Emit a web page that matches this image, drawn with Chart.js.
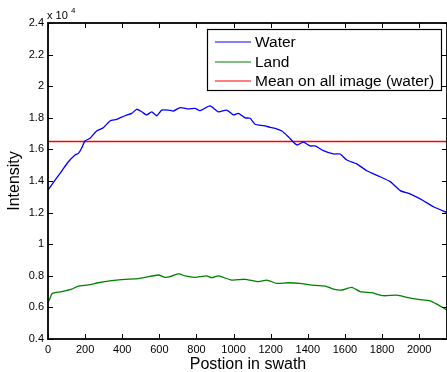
<!DOCTYPE html>
<html>
<head>
<meta charset="utf-8">
<script src="https://cdn.jsdelivr.net/npm/chart.js@4.4.1/dist/chart.umd.min.js"></script>
<style>
  html, body { margin: 0; padding: 0; background: #fff; }
  #wrap { width: 447px; height: 372px; }
</style>
</head>
<body>
<div id="wrap"><canvas id="cSwath" width="447" height="372"></canvas></div>
<script>
/* ── Data (intensity values, raw) ── */
const waterPos = [0, 38, 74, 110, 146, 164, 181, 199, 226, 262, 298, 334, 370, 415, 451, 478, 505, 532, 559, 586, 613, 649, 676, 712, 757, 792, 819, 873, 918, 963, 999, 1026, 1062, 1089, 1116, 1161, 1197, 1224, 1260, 1295, 1341, 1376, 1412, 1439, 1484, 1538, 1574, 1610, 1664, 1718, 1790, 1844, 1898, 1951, 2023, 2077, 2149];
const waterVal = [13430, 14060, 14630, 15220, 15650, 15750, 16070, 16530, 16700, 17160, 17370, 17800, 17900, 18130, 18280, 18540, 18380, 18180, 18380, 18130, 18490, 18490, 18430, 18640, 18560, 18600, 18450, 18750, 18380, 18490, 18180, 18280, 18000, 17970, 17590, 17500, 17400, 17330, 17160, 16800, 16280, 16460, 16220, 16220, 15920, 15710, 15710, 15330, 15080, 14650, 14270, 13960, 13390, 13180, 12750, 12370, 12000];

const landPos = [0, 11, 23, 74, 128, 164, 217, 271, 343, 415, 469, 523, 595, 631, 658, 694, 712, 739, 792, 855, 882, 918, 990, 1062, 1134, 1179, 1233, 1295, 1358, 1412, 1493, 1538, 1583, 1637, 1682, 1745, 1808, 1880, 1934, 1996, 2059, 2095, 2149];
const landVal = [6300, 6580, 6890, 7000, 7160, 7350, 7420, 7560, 7690, 7780, 7800, 7900, 8050, 7900, 7940, 8110, 8110, 7990, 7900, 7990, 7880, 7990, 7730, 7780, 7630, 7730, 7520, 7560, 7520, 7420, 7350, 7160, 7100, 7270, 7000, 6930, 6740, 6780, 6640, 6510, 6420, 6210, 5840];

const meanWater = 16500;
const meanPos   = [0, 2150];

const xMin = 0, xMax = 2150, xStep = 200;
const yMin = 4000, yMax = 24000, yStep = 2000;

const FONT = '"Liberation Sans", Arial, Helvetica, sans-serif';

const pts = (xs, ys) => xs.map((x, i) => ({ x: x, y: ys[i] }));

/* ── MATLAB-like frame, inward ticks, labels and legend ── */
const matlabFrame = {
  id: 'matlabFrame',
  afterDatasetsDraw(chart) {
    const { ctx, chartArea: a, scales } = chart;
    const sx = scales.x, sy = scales.y;
    ctx.save();

    // inward ticks
    ctx.strokeStyle = '#000';
    ctx.lineWidth = 1;
    const tl = 5;
    for (let v = xMin; v <= xMax; v += xStep) {
      const px = Math.round(sx.getPixelForValue(v)) + 0.5;
      ctx.beginPath();
      ctx.moveTo(px, a.bottom); ctx.lineTo(px, a.bottom - tl);
      ctx.moveTo(px, a.top);    ctx.lineTo(px, a.top + tl);
      ctx.stroke();
    }
    for (let v = yMin; v <= yMax; v += yStep) {
      const py = Math.round(sy.getPixelForValue(v)) + 0.5;
      ctx.beginPath();
      ctx.moveTo(a.left, py);  ctx.lineTo(a.left + tl, py);
      ctx.moveTo(a.right, py); ctx.lineTo(a.right - tl, py);
      ctx.stroke();
    }

    // box
    ctx.lineWidth = 1.8;
    ctx.strokeRect(a.left, a.top, a.right - a.left, a.bottom - a.top);

    // legend
    const lx = 207.5, ly = 29.5, lw = 234, lh = 61;
    ctx.fillStyle = '#fff';
    ctx.fillRect(lx, ly, lw, lh);
    ctx.lineWidth = 1.2;
    ctx.strokeStyle = '#000';
    ctx.strokeRect(lx, ly, lw, lh);
    ctx.font = '15.5px ' + FONT;
    ctx.textBaseline = 'middle';
    ctx.textAlign = 'left';
    const rows = [42, 62, 81];
    chart.data.datasets.forEach((ds, i) => {
      ctx.strokeStyle = ds.borderColor;
      ctx.lineWidth = 1.2;
      ctx.beginPath();
      ctx.moveTo(215, rows[i]); ctx.lineTo(251, rows[i]);
      ctx.stroke();
      ctx.fillStyle = '#000';
      ctx.fillText(ds.label, 255, rows[i] + 1);
    });

    // exponent label
    ctx.fillStyle = '#000';
    ctx.font = '11px ' + FONT;
    ctx.textBaseline = 'alphabetic';
    ctx.fillText('x 10', 47, 19);
    ctx.font = '8px ' + FONT;
    ctx.fillText('4', 71, 13);

    // axis titles
    ctx.font = '16px ' + FONT;
    ctx.textAlign = 'center';
    ctx.fillText('Postion in swath', 248, 369);
    ctx.translate(19, 181);
    ctx.rotate(-Math.PI / 2);
    ctx.fillText('Intensity', 0, 0);

    ctx.restore();
  }
};

new Chart(document.getElementById('cSwath'), {
  type: 'line',
  data: {
    datasets: [
      {
        label: 'Water',
        data: pts(waterPos, waterVal),
        borderColor: '#0000ff',
        borderWidth: 1.3,
        pointRadius: 0,
        tension: 0.2
      },
      {
        label: 'Land',
        data: pts(landPos, landVal),
        borderColor: '#008000',
        borderWidth: 1.3,
        pointRadius: 0,
        tension: 0.2
      },
      {
        label: 'Mean on all image (water)',
        data: pts(meanPos, meanPos.map(() => meanWater)),
        borderColor: '#ff0000',
        borderWidth: 1.5,
        pointRadius: 0,
        tension: 0
      }
    ]
  },
  options: {
    responsive: false,
    animation: false,
    layout: { padding: { top: 23, right: 0, left: 0, bottom: 0 } },
    plugins: { legend: { display: false }, tooltip: { enabled: false } },
    scales: {
      x: {
        type: 'linear',
        min: xMin,
        max: xMax,
        grid: { display: false, drawTicks: false },
        border: { display: false },
        afterBuildTicks: s => {
          const t = [];
          for (let v = xMin; v <= xMax; v += xStep) t.push({ value: v });
          s.ticks = t;
        },
        ticks: {
          color: '#000',
          font: { size: 11, family: FONT },
          padding: 4,
          maxRotation: 0,
          autoSkip: false,
          callback: v => String(v)
        },
        afterFit: s => { s.height = 33; }
      },
      y: {
        min: yMin,
        max: yMax,
        grid: { display: false, drawTicks: false },
        border: { display: false },
        ticks: {
          color: '#000',
          font: { size: 11, family: FONT },
          padding: 4,
          stepSize: yStep,
          callback: v => String(+(v / 1e4).toFixed(1))
        },
        afterFit: s => { s.width = 48; }
      }
    }
  },
  plugins: [matlabFrame]
});
</script>
</body>
</html>
